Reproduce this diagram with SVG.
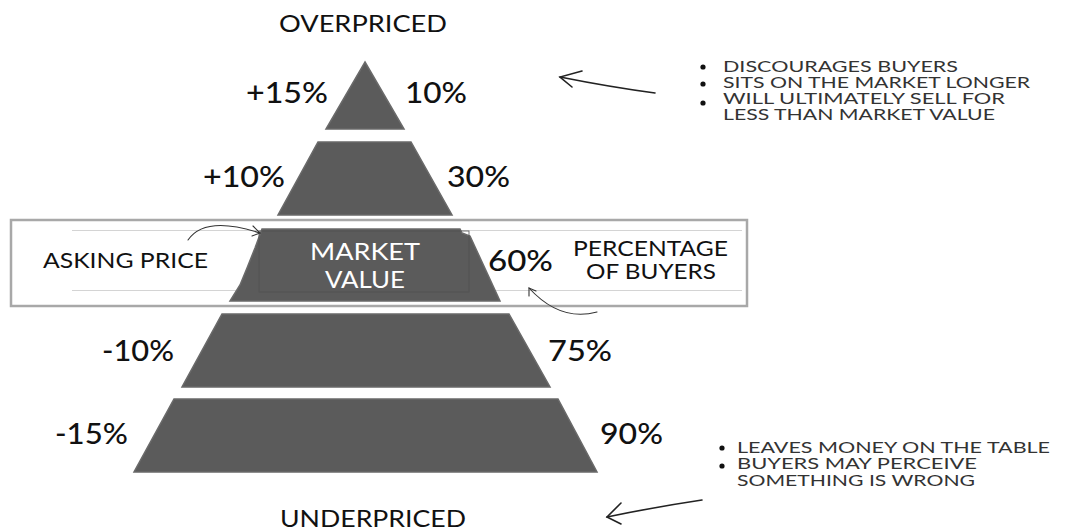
<svg xmlns="http://www.w3.org/2000/svg" width="1069" height="531" viewBox="0 0 1069 531">
<style>
.tier{fill:#5b5b5b;stroke:#6a6a6a;stroke-width:1.5}
.pct{font-family:Lato,"Liberation Sans",sans-serif;font-size:29px;fill:#111;font-weight:500}
.head{font-family:Lato,"Liberation Sans",sans-serif;font-size:24px;fill:#111}
.lbl{font-family:Lato,"Liberation Sans",sans-serif;font-size:21px;fill:#111}
.mv{font-family:Lato,"Liberation Sans",sans-serif;font-size:23px;fill:#ffffff;text-anchor:middle}
.note{font-family:Lato,"Liberation Sans",sans-serif;font-size:15px;fill:#333}
.arr{fill:none;stroke:#222;stroke-width:1.6;stroke-linecap:round}
.thin{fill:none;stroke:#333;stroke-width:1.1;stroke-linecap:round}
</style>
<rect width="1069" height="531" fill="#fff"/>

<g id="band">
<rect x="11" y="220" width="736" height="86" fill="#fff" stroke="#a8a8a8" stroke-width="2.5"/>
<line x1="72" y1="230.5" x2="742" y2="230.5" stroke="#d4d4d4" stroke-width="1"/>
<line x1="72" y1="290.5" x2="742" y2="290.5" stroke="#d4d4d4" stroke-width="1"/>
</g>

<text id="overpriced" class="head" x="279" y="32" textLength="168" lengthAdjust="spacingAndGlyphs">OVERPRICED</text>
<text id="underpriced" class="head" x="280" y="527" textLength="186" lengthAdjust="spacingAndGlyphs">UNDERPRICED</text>

<g id="tier1">
<polygon class="tier" points="365,62 404,129 326,129"/>
<text class="pct" x="246" y="103" textLength="82" lengthAdjust="spacingAndGlyphs">+15%</text>
<text class="pct" x="405" y="103" textLength="62" lengthAdjust="spacingAndGlyphs">10%</text>
</g>

<g id="tier2">
<polygon class="tier" points="318,142 411,142 452,215 278,215"/>
<text class="pct" x="203" y="187" textLength="82" lengthAdjust="spacingAndGlyphs">+10%</text>
<text class="pct" x="447" y="187" textLength="63" lengthAdjust="spacingAndGlyphs">30%</text>
</g>

<g id="tier3">
<polygon class="tier" points="262,229 460,229 462,233 470,236 500,301 230,301 240,285 247,268 255,248"/>
<rect x="259" y="231" width="210" height="61" fill="none" stroke="#525252" stroke-width="0.8"/>
<text class="mv" x="365" y="260" textLength="110" lengthAdjust="spacingAndGlyphs">MARKET</text>
<text class="mv" x="365" y="288" textLength="80" lengthAdjust="spacingAndGlyphs">VALUE</text>
<text class="lbl" x="43" y="268" font-size="24" textLength="165" lengthAdjust="spacingAndGlyphs">ASKING PRICE</text>
<text class="pct" x="488" y="271" font-weight="700" textLength="65" lengthAdjust="spacingAndGlyphs">60%</text>
<text class="lbl" x="573" y="256" textLength="155" lengthAdjust="spacingAndGlyphs">PERCENTAGE</text>
<text class="lbl" x="586" y="279" textLength="130" lengthAdjust="spacingAndGlyphs">OF BUYERS</text>
</g>

<g id="tier4">
<polygon class="tier" points="222,314 509,314 550,387 182,387"/>
<text class="pct" x="102" y="361" textLength="72" lengthAdjust="spacingAndGlyphs">-10%</text>
<text class="pct" x="548" y="361" textLength="64" lengthAdjust="spacingAndGlyphs">75%</text>
</g>

<g id="tier5">
<polygon class="tier" points="174,399 558,399 597,472 134,472"/>
<text class="pct" x="55" y="444" textLength="73" lengthAdjust="spacingAndGlyphs">-15%</text>
<text class="pct" x="600" y="444" textLength="63" lengthAdjust="spacingAndGlyphs">90%</text>
</g>

<g id="note-top">
<circle cx="703" cy="67" r="2.6" fill="#111"/>
<circle cx="703" cy="84" r="2.6" fill="#111"/>
<circle cx="703" cy="103" r="2.6" fill="#111"/>
<text class="note" x="723" y="72" textLength="235" lengthAdjust="spacingAndGlyphs">DISCOURAGES BUYERS</text>
<text class="note" x="723" y="88" textLength="307" lengthAdjust="spacingAndGlyphs">SITS ON THE MARKET LONGER</text>
<text class="note" x="723" y="104" textLength="282" lengthAdjust="spacingAndGlyphs">WILL ULTIMATELY SELL FOR</text>
<text class="note" x="723" y="120" textLength="272" lengthAdjust="spacingAndGlyphs">LESS THAN MARKET VALUE</text>
</g>

<g id="note-bottom">
<circle cx="722" cy="448" r="2.6" fill="#111"/>
<circle cx="722" cy="466" r="2.6" fill="#111"/>
<text class="note" x="737" y="453" textLength="313" lengthAdjust="spacingAndGlyphs">LEAVES MONEY ON THE TABLE</text>
<text class="note" x="737" y="469" textLength="240" lengthAdjust="spacingAndGlyphs">BUYERS MAY PERCEIVE</text>
<text class="note" x="737" y="486" textLength="238" lengthAdjust="spacingAndGlyphs">SOMETHING IS WRONG</text>
</g>

<g id="connectors">
<path class="arr" d="M655,93 Q610,87 560,77"/>
<path class="arr" d="M582,71 L560,77 L572,87"/>
<path class="arr" d="M702,500 Q655,507 607,517"/>
<path class="arr" d="M621,503 L607,517 L621,524"/>
<path class="thin" d="M188,240 Q205,215 260,233"/>
<path class="thin" d="M253,226 L260,233 L252,236"/>
<path class="thin" d="M597,312 Q560,322 529,288"/>
<path class="thin" d="M529,296 L529,288 L536,291"/>
</g>
</svg>
